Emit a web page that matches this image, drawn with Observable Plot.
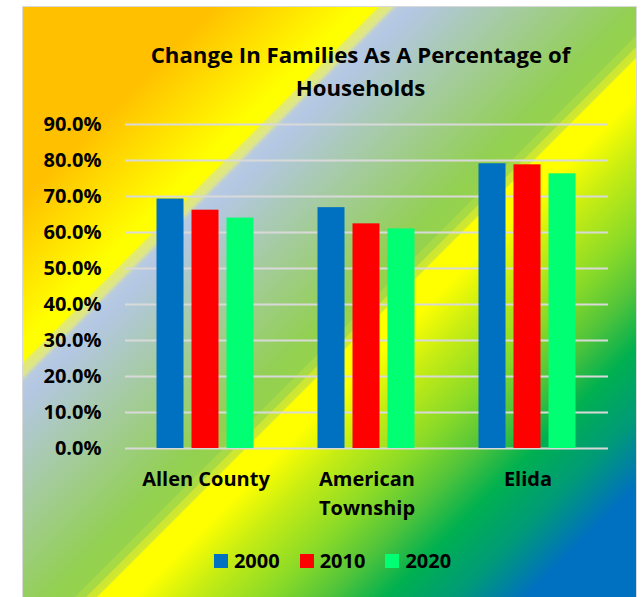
<!DOCTYPE html>
<html>
<head>
<meta charset="utf-8">
<script src="https://cdn.jsdelivr.net/npm/d3@7"></script>
<script src="https://cdn.jsdelivr.net/npm/@observablehq/plot@0.6"></script>
<style>
  html, body { margin: 0; padding: 0; background: #fff; width: 641px; height: 597px; overflow: hidden; }
  #frame {
    position: absolute; left: 22px; top: 6px; width: 615px; height: 600px;
    box-sizing: border-box; border: 1.5px solid #D9D9D9; border-bottom: none;
    font-family: "Open Sans", Lato, sans-serif; font-weight: 700; color: #000;
  }
  #title {
    margin-top: 31px; height: 66px; line-height: 33px; font-size: 22.2px;
    text-align: center; padding-left: 62px; box-sizing: border-box; white-space: nowrap;
  }
  #chart { margin-top: 3.5px; height: 430px; }
  #chart svg { display: block; background: transparent; overflow: visible; }
  #legend {
    margin-top: 13px; height: 20px; display: flex; justify-content: center;
    align-items: center; gap: 20px; font-size: 20px; padding-left: 6px; box-sizing: border-box;
  }
  #legend .item { display: flex; align-items: center; gap: 6px; }
  #legend .sw { width: 14px; height: 14px; display: inline-block; }
</style>
</head>
<body>
<div id="frame">
  <div id="title"></div>
  <div id="chart"></div>
  <div id="legend"></div>
</div>
<script>
// ---- data ----
const categories = ["Allen County", "American Township", "Elida"];
const categoryLabels = ["Allen County", "American\nTownship", "Elida"];
const years = ["2000", "2010", "2020"];
const values2000 = [0.693, 0.669, 0.791];
const values2010 = [0.662, 0.624, 0.788];
const values2020 = [0.640, 0.610, 0.763];
const yTicks = [0, 0.1, 0.2, 0.3, 0.4, 0.5, 0.6, 0.7, 0.8, 0.9];
const seriesColors = ["#0070C0", "#FF0000", "#00FF72"];
const titleLines = ["Change In Families As A Percentage of", "Households"];

// ---- background gradient (diagonal bands) ----
const W = 612, H = 598;
const bgStops = [
  [0, "#FFC000"], [190, "#FFC000"], [335, "#FFFF00"], [354, "#FFFF00"],
  [356, "#E3EB6C"], [368, "#DCE58C"], [374, "#B8CBE0"], [390, "#B4C7E4"],
  [615, "#92D050"], [640, "#96D24C"], [642, "#A6DA46"], [651, "#A8DA44"],
  [653, "#CCE632"], [662, "#D0E830"], [664, "#FFFF00"], [700, "#FFFF00"],
  [760, "#C4EC14"], [840, "#84D82A"], [892, "#52C43A"], [952, "#00B050"],
  [1022, "#009A78"], [1092, "#0070C0"], [1300, "#0070C0"]
];
document.getElementById("frame").style.background =
  "linear-gradient(135deg, " +
  bgStops.map(([s, c]) => `${c} ${(s / (W + H) * 100).toFixed(2)}%`).join(", ") + ")";

// ---- title ----
document.getElementById("title").innerHTML = titleLines.join("<br>");

// ---- table ----
const seriesValues = [values2000, values2010, values2020];
const data = [];
categories.forEach((c, i) => {
  years.forEach((y, j) => data.push({ place: c, year: y, value: seriesValues[j][i] }));
});
const labelOf = new Map(categories.map((c, i) => [c, categoryLabels[i]]));

const font = "'Open Sans', Lato, sans-serif";
const chart = Plot.plot({
  width: 612,
  height: 430,
  marginTop: 16,
  marginBottom: 90,
  marginLeft: 100.5,
  marginRight: 26.5,
  style: { background: "transparent", fontFamily: font, color: "#000" },
  fx: { domain: categories, padding: 0 },
  x: { domain: years, paddingInner: 0.215, paddingOuter: 0.866 },
  y: { domain: [0, 0.9] },
  color: { domain: years, range: seriesColors },
  marks: [
    Plot.gridY(yTicks, { stroke: "#D9D9D9", strokeOpacity: 1, strokeWidth: 2 }),
    Plot.barY(data, { fx: "place", x: "year", y: "value", fill: "year" }),
    Plot.axisY(yTicks, {
      tickSize: 0, tickPadding: 24, tickFormat: d3.format(".1%"), label: null,
      fontSize: 20, fontWeight: 700, fill: "#000"
    }),
    Plot.axisFx({
      anchor: "bottom", tickSize: 0, tickPadding: 17, label: null,
      tickFormat: d => labelOf.get(d), lineHeight: 1.45,
      fontSize: 20, fontWeight: 700, fill: "#000"
    }),
    Plot.axisX({ ticks: [], label: null, tickSize: 0 })
  ]
});
document.getElementById("chart").appendChild(chart);

// ---- legend ----
const legend = document.getElementById("legend");
years.forEach((y, i) => {
  const item = document.createElement("div");
  item.className = "item";
  item.innerHTML = `<span class="sw" style="background:${seriesColors[i]}"></span><span>${y}</span>`;
  legend.appendChild(item);
});
</script>
</body>
</html>
